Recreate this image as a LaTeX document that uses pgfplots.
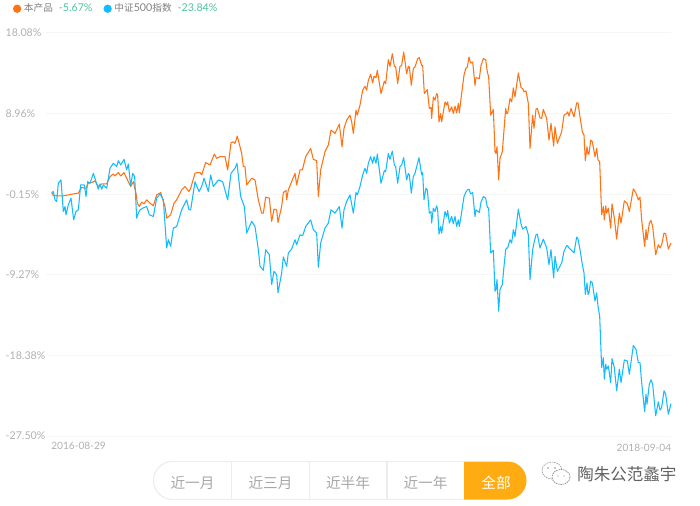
\documentclass[border=0pt]{standalone}
\usepackage{pgfplots}
\pgfplotsset{compat=1.18}
\usepackage{fontspec}
\setmainfont{Lato}
\newfontfamily\cjk{Noto Sans CJK SC}
\definecolor{lineO}{HTML}{FF7314}
\definecolor{lineB}{HTML}{16BBFF}
\definecolor{tick}{HTML}{B0B0B0}
\definecolor{legtxt}{HTML}{808080}
\definecolor{pct}{HTML}{4FC3A1}
\definecolor{gridc}{HTML}{F6F6F6}
\definecolor{btn}{HTML}{EDEDED}
\definecolor{act}{HTML}{FFAC12}
\definecolor{btxt}{HTML}{A8A8A8}
\newcommand{\fs}[1]{\fontsize{#1}{#1}\selectfont}
\newcommand{\lc}[1]{{\cjk\fs{7.25pt}#1}}
\begin{document}
\begin{tikzpicture}[x=0.75pt,y=-0.75pt]
\useasboundingbox (0,0) rectangle (700,506);
\begin{axis}[
  at={(34.5pt,-327pt)},anchor=south west,
  scale only axis,width=468.75pt,height=302.25pt,
  xmin=138,xmax=2013,ymin=-27.5,ymax=18.08,
  axis line style={draw=none},
  major tick length=0pt,
  ymajorgrids,grid style={gridc,line width=0.75pt},
  ytick={-27.5,-18.38,-9.27,-0.15,8.96,18.08},
  yticklabels={-27.50\%,-18.38\%,-9.27\%,-0.15\%,8.96\%,18.08\%},
  yticklabel style={anchor=west,xshift=-33.8pt,text=tick,font=\fs{8pt}},
  xtick={155},xticklabels={2016-08-29},
  xticklabel style={anchor=north west,xshift=-3.8pt,yshift=-1.3pt,text=tick,font=\fs{7.6pt}},
  extra x ticks={2013},extra x tick labels={2018-09-04},
  extra x tick style={xticklabel style={anchor=north east,xshift=7.5pt,yshift=-1.3pt,text=tick,font=\fs{7.6pt}}},
  legend columns=2,
  legend cell align=left,
  legend style={at={(-34.5pt,327pt)},anchor=north west,draw=none,fill=none,
    font=\fs{8pt},text=legtxt,inner sep=0pt,outer sep=0pt,
    xshift=9.75pt,yshift=-0.75pt,
    /tikz/every even column/.append style={column sep=6.25pt}},
  legend image code/.code={\fill[#1] (0pt,0pt) circle (2.7pt);},
  clip=false,
]
\addplot[lineO,line width=0.8pt,line join=round] coordinates {
(155,0.03)(160,-0.30)(175,-0.34)(190,-0.34)(205,-0.23)(215,-0.15)(235,-0.04)(240,0.33)(245,0.60)(258,0.52)(265,1.09)(275,1.16)(285,1.35)(295,0.71)(305,1.01)(320,1.01)(330,1.84)(340,2.14)(345,1.91)(355,2.29)(362,1.91)(372,2.29)(380,1.65)(385,1.27)(392,0.71)(400,1.27)(408,-0.04)(412,-1.17)(418,-1.54)(425,-1.05)(432,-1.24)(440,-0.79)(448,-1.09)(460,-1.47)(470,-0.23)(482,0.03)(495,-1.54)(500,-2.86)(512,-2.48)(522,-1.17)(530,-0.79)(545,0.33)(555,0.71)(567,0.15)(572,0.52)(585,2.21)(592,2.29)(600,2.29)(605,2.03)(617,3.42)(630,3.15)(643,4.39)(650,3.90)(660,4.09)(675,4.09)(683,2.59)(693,5.67)(700,5.78)(705,5.60)(712,6.42)(725,4.47)(730,2.97)(735,2.97)(740,0.90)(755,1.65)(765,1.46)(775,-0.79)(785,-2.30)(790,-2.30)(797,-0.49)(808,-0.60)(815,-3.23)(822,-1.84)(830,-1.92)(834,-3.35)(845,-1.54)(850,0.03)(858,0.26)(860,-0.79)(865,0.33)(875,1.27)(885,2.21)(890,0.90)(900,2.59)(907,2.59)(917,4.09)(932,5.03)(940,3.79)(950,3.64)(955,-0.42)(962,2.59)(975,4.66)(985,5.41)(993,7.10)(1005,6.72)(1018,7.77)(1026,5.22)(1032,7.29)(1040,8.22)(1050,8.79)
(1055,8.04)(1060,6.72)(1068,9.35)(1072,8.79)(1080,9.92)(1088,11.61)(1095,12.06)(1100,11.61)(1105,12.73)(1112,13.41)(1118,12.43)(1122,13.18)(1128,13.03)(1132,13.86)(1143,11.23)(1153,12.62)(1157,12.36)(1165,15.06)(1170,14.31)(1177,15.74)(1183,14.31)(1187,14.24)(1193,12.36)(1200,14.31)(1205,14.42)(1211,15.93)(1220,13.48)(1225,14.31)(1228,14.24)(1234,12.17)(1240,14.05)(1245,14.24)(1253,15.18)(1258,15.29)(1265,14.42)(1268,14.42)(1273,11.23)(1282,11.68)(1288,9.54)(1293,9.65)(1295,8.41)(1300,10.85)(1305,10.48)(1310,11.23)(1313,11.04)(1317,8.04)(1322,8.98)(1325,8.04)(1335,10.29)(1340,9.92)(1343,10.29)(1348,9.16)(1355,9.73)(1360,8.98)(1365,9.80)(1370,9.05)(1375,10.10)(1378,9.05)(1383,10.67)(1392,13.30)(1397,14.05)(1402,14.24)(1407,15.36)(1412,14.69)(1418,14.80)(1425,12.17)(1428,13.03)(1438,12.92)(1443,14.42)(1450,15.18)(1457,15.06)(1462,13.67)(1466,13.11)(1472,8.79)(1480,9.43)(1485,4.66)(1488,4.47)(1491,5.22)(1496,1.46)(1500,3.90)(1507,4.66)(1512,7.10)(1517,9.54)(1520,8.98)(1523,8.98)(1530,10.67)(1535,10.29)(1540,11.87)(1545,10.85)(1555,13.56)(1563,11.91)(1568,11.79)(1572,11.42)(1578,11.53)(1585,10.10)(1590,5.03)(1598,8.79)(1602,7.29)(1608,9.46)(1612,9.54)(1620,8.49)(1625,8.41)(1630,9.43)(1640,8.41)(1647,5.97)(1653,7.85)(1661,5.29)(1665,7.47)(1672,5.60)(1685,6.91)(1692,8.79)(1700,8.98)(1703,9.16)(1707,8.68)(1713,9.54)(1722,8.60)(1730,10.18)(1734,10.18)(1740,8.60)(1747,6.91)(1752,6.53)(1756,3.64)(1761,5.22)(1764,4.39)(1767,4.39)(1772,5.97)(1777,5.78)(1785,4.09)(1790,5.03)(1794,3.72)(1799,3.53)(1805,-2.48)(1810,-1.54)(1813,-3.05)(1817,-1.47)(1820,-2.30)(1825,-1.73)(1832,-3.99)(1836,-1.24)(1843,-2.86)(1850,-5.23)(1858,-2.30)(1863,-3.42)(1873,-0.90)(1882,-1.24)(1888,-2.11)(1900,0.45)(1908,-0.04)(1915,-0.79)(1920,-0.49)(1925,-3.05)(1934,-6.05)(1938,-4.17)(1941,-5.30)(1948,-3.42)(1953,-3.12)(1958,-3.80)(1967,-7.00)(1975,-5.86)(1980,-6.24)(1985,-5.86)(1992,-4.55)(1997,-4.62)(2005,-6.35)(2013,-5.67)
};
\addlegendentry{\lc{本产品}\hspace{4.5pt}\textcolor{pct}{-5.67\%}}
\addplot[lineB,line width=0.8pt,line join=round] coordinates {
(155,0.03)(160,0.15)(165,-0.79)(170,-0.98)(175,1.09)(183,1.46)(190,-2.11)(195,-1.54)(198,-2.48)(205,-1.35)(213,-0.60)(221,-3.05)(228,-2.11)(235,-1.92)(242,0.90)(253,0.90)(258,-0.42)(263,1.27)(270,1.09)(280,2.21)(295,0.41)(300,1.01)(305,0.41)(310,0.90)(320,0.52)(330,2.78)(340,3.34)(350,2.97)(355,3.64)(362,3.15)(372,3.79)(380,2.59)(385,3.27)(392,0.79)(398,2.21)(404,1.84)(410,-2.86)(415,-2.30)(420,-1.92)(428,-1.73)(440,-1.54)(448,-2.48)(460,-2.67)(470,-0.60)(480,-0.12)(490,-0.79)(500,-6.24)(505,-5.30)(512,-6.05)(520,-3.99)(530,-3.80)(545,-1.92)(560,-0.79)(567,-1.92)(572,-1.92)(585,1.27)(597,0.15)(605,0.71)(612,1.65)(625,0.15)(632,2.03)(640,0.71)(655,1.46)(668,1.27)(683,-0.79)(693,2.21)(705,2.78)(711,3.34)(722,-0.42)(733,-1.54)(740,-4.55)(755,-3.23)(765,-3.80)(775,-6.43)(780,-8.31)(790,-8.76)(797,-6.43)(808,-7.00)(815,-10.37)(822,-8.87)(830,-9.25)(834,-11.31)(845,-9.06)(850,-7.25)(860,-8.31)(865,-6.80)(875,-6.35)(885,-5.30)(890,-5.86)(900,-4.74)(908,-4.85)(917,-3.80)(932,-3.05)(940,-4.17)(950,-4.55)(955,-8.42)(962,-5.67)(975,-3.99)(985,-3.42)(993,-1.92)(1005,-2.30)(1018,-1.54)(1026,-3.99)(1032,-1.92)(1040,-0.98)(1050,-0.23)
(1060,-2.30)(1068,0.03)(1072,-0.23)(1080,0.71)(1088,2.03)(1095,2.78)(1100,2.21)(1105,3.34)(1112,4.09)(1118,3.34)(1122,4.09)(1128,3.34)(1132,4.39)(1143,1.09)(1153,2.51)(1157,2.40)(1165,4.47)(1170,3.79)(1177,4.73)(1183,3.15)(1187,2.97)(1193,1.09)(1200,2.97)(1205,3.15)(1211,3.98)(1220,1.46)(1225,2.21)(1228,2.03)(1234,-0.04)(1240,1.84)(1245,2.21)(1257,3.98)(1265,2.03)(1268,2.29)(1272,-0.79)(1278,0.52)(1282,0.33)(1288,-2.30)(1293,-2.11)(1295,-3.42)(1300,-1.73)(1305,-2.11)(1310,-1.47)(1313,-1.92)(1317,-4.66)(1322,-3.80)(1325,-4.55)(1335,-2.11)(1340,-2.67)(1343,-2.00)(1348,-3.42)(1355,-2.67)(1360,-3.50)(1365,-2.67)(1370,-3.80)(1375,-3.05)(1378,-3.80)(1383,-2.67)(1392,-0.42)(1397,0.03)(1402,0.33)(1407,0.41)(1412,-0.12)(1418,0.03)(1425,-2.67)(1428,-1.92)(1438,-2.22)(1443,-1.05)(1450,-0.42)(1457,-0.60)(1462,-1.62)(1466,-1.73)(1472,-6.80)(1480,-6.50)(1485,-11.12)(1488,-10.93)(1491,-9.81)(1496,-13.38)(1500,-10.93)(1507,-10.37)(1512,-8.31)(1517,-6.43)(1520,-6.24)(1523,-6.24)(1530,-5.30)(1535,-5.67)(1540,-4.17)(1545,-4.93)(1555,-1.84)(1563,-3.50)(1568,-4.10)(1572,-3.99)(1578,-3.80)(1585,-4.74)(1590,-9.81)(1598,-6.43)(1602,-5.67)(1608,-4.74)(1612,-4.66)(1620,-6.24)(1630,-5.23)(1640,-6.24)(1647,-8.12)(1653,-6.43)(1661,-9.62)(1665,-7.18)(1672,-8.87)(1685,-7.93)(1692,-6.61)(1700,-5.98)(1703,-5.98)(1707,-6.24)(1713,-6.43)(1722,-6.80)(1730,-5.00)(1734,-5.23)(1740,-6.43)(1747,-8.12)(1752,-9.06)(1756,-11.50)(1761,-10.18)(1764,-11.50)(1767,-11.31)(1772,-9.99)(1777,-10.18)(1785,-12.25)(1790,-11.31)(1794,-12.81)(1799,-13.94)(1805,-19.76)(1810,-18.64)(1813,-21.08)(1817,-19.39)(1820,-19.95)(1825,-19.58)(1832,-21.46)(1836,-18.75)(1843,-19.76)(1850,-22.39)(1858,-19.95)(1863,-21.46)(1873,-18.90)(1882,-19.01)(1888,-20.52)(1900,-17.25)(1908,-17.70)(1915,-19.20)(1920,-19.20)(1925,-21.46)(1934,-24.76)(1938,-22.77)(1941,-23.90)(1948,-21.64)(1953,-21.15)(1958,-21.64)(1967,-25.21)(1975,-23.63)(1980,-24.57)(1985,-24.27)(1992,-22.39)(1997,-22.77)(2005,-25.03)(2013,-23.84)
};
\addlegendentry{\lc{中证}500\lc{指数}\hspace{4.5pt}\textcolor{pct}{-23.84\%}}
\end{axis}
% range buttons
\fill[act] (464,461.5) -- (507.5,461.5) arc[start angle=-90,end angle=90,radius=19] -- (464,499.5) -- cycle;
\draw[btn,line width=0.9pt] (464,461.5) -- (172.5,461.5) arc[start angle=270,end angle=90,radius=19] -- (464,499.5);
\foreach \x in {231.5,309.5,387}{\draw[btn,line width=0.9pt] (\x,461.5) -- (\x,499.5);}
\foreach \x/\t in {192.5/近一月,270.5/近三月,348/近半年,425.5/近一年}{
  \node[text=btxt,font=\cjk\fs{11pt},inner sep=0pt] at (\x,482.5) {\t};}
\node[text=white,font=\cjk\fs{11pt},inner sep=0pt] at (496,482.5) {全部};
% watermark
\node[text=black!62,font=\cjk\fs{12.4pt},inner sep=0pt,anchor=west] at (577,474.5) {陶朱公范蠡宇};
\draw[black!40,line width=0.45pt,dash pattern=on 1.2pt off 0.6pt] (552,470.5) ellipse[x radius=10,y radius=8.5];
\fill[white] (561,477) ellipse[x radius=9,y radius=7.5];
\draw[black!50,line width=0.45pt,dash pattern=on 1.2pt off 0.6pt] (561,477) ellipse[x radius=9,y radius=7.5];
\fill[black!45] (548,468) circle (0.9) (555,468) circle (0.9) (558,476) circle (0.7) (564,476) circle (0.7);
\end{tikzpicture}
\end{document}
